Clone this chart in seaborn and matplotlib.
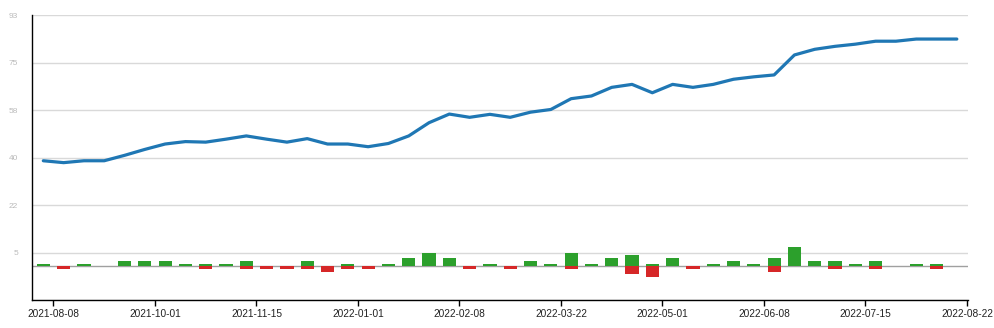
import numpy as np
import pandas as pd
import matplotlib
matplotlib.use("Agg")
import matplotlib.pyplot as plt
import seaborn as sns

# ---- data ----
line_values = [39.1, 38.4, 39.1, 39.1, 41.1, 43.3, 45.3, 46.2, 46.0, 47.1,
               48.3, 47.1, 46.0, 47.3, 45.3, 45.3, 44.3, 45.5, 48.3, 53.2,
               56.4, 55.2, 56.3, 55.2, 57.1, 58.1, 62.1, 63.1, 66.3, 67.4,
               64.3, 67.4, 66.3, 67.4, 69.3, 70.2, 70.9, 78.3, 80.4, 81.5,
               82.3, 83.4, 83.4, 84.2, 84.2, 84.2]
gains = [1, 0, 1, 0, 2, 2, 2, 1, 1, 1,
         2, 0, 0, 2, 0, 1, 0, 1, 3, 5,
         3, 0, 1, 0, 2, 1, 5, 1, 3, 4,
         1, 3, 0, 1, 2, 1, 3, 7, 2, 2,
         1, 2, 0, 1, 1, 0]
losses = [0, -1, 0, 0, 0, 0, 0, 0, -1, 0,
          -1, -1, -1, -1, -2, -1, -1, 0, 0, 0,
          0, -1, 0, -1, 0, 0, -1, 0, 0, -3,
          -4, 0, -1, 0, 0, 0, -2, 0, 0, -1,
          0, -1, 0, 0, -1, 0]
x_tick_labels = ["2021-08-08", "2021-10-01", "2021-11-15", "2022-01-01",
                 "2022-02-08", "2022-03-22", "2022-05-01", "2022-06-08",
                 "2022-07-15", "2022-08-22"]
y_tick_labels = ["", "5", "22", "40", "58", "75", "93"]

idx = np.arange(len(line_values))
df = pd.DataFrame({"i": idx, "line": line_values, "gain": gains, "loss": losses})

sns.set_style("white")
plt.rcParams["font.family"] = ["Liberation Sans", "DejaVu Sans"]

fig = plt.figure(figsize=(9.94, 3.28), dpi=100)
ax = fig.add_axes([32 / 994, 28 / 328, 936 / 994, 284.7 / 328])

ax.axhline(0, color="#a0a0a0", lw=1, zorder=1)
sns.barplot(data=df, x="i", y="gain", native_scale=True, color="#2ca02c",
            saturation=1, width=0.65, linewidth=0, errorbar=None, ax=ax, zorder=2)
sns.barplot(data=df, x="i", y="loss", native_scale=True, color="#d62728",
            saturation=1, width=0.65, linewidth=0, errorbar=None, ax=ax, zorder=2)
sns.lineplot(data=df, x="i", y="line", color="#1f77b4", linewidth=2.3,
             ax=ax, zorder=3)
for l in ax.lines:
    l.set_solid_joinstyle("round")
    l.set_solid_capstyle("round")

ax.set_xlim(-0.557, 45.55)
ax.set_ylim(-12.5, 93)

ax.set_xticks(np.arange(len(x_tick_labels)) * 5 + 0.5)
ax.set_xticklabels(x_tick_labels)
yt = np.linspace(-12.5, 93, len(y_tick_labels))
ax.set_yticks(yt)
ax.set_yticklabels(y_tick_labels)
ax.set_yticks([-12.5, 93], minor=True)

ax.yaxis.grid(True, which="major", color="#d9d9d9", lw=1)
ax.xaxis.grid(False)
ax.set_axisbelow(True)

ax.tick_params(axis="x", which="major", length=4.5, width=1, color="black",
               pad=2, labelsize=7.3, labelcolor="#222222", bottom=True)
ax.tick_params(axis="y", which="major", length=0, pad=10, labelsize=6,
               labelcolor="#bbbbbb", left=True)
ax.tick_params(axis="y", which="minor", length=3.5, width=1, color="black", left=True)

for s in ["top", "right"]:
    ax.spines[s].set_visible(False)
for s in ["left", "bottom"]:
    ax.spines[s].set_color("black")
    ax.spines[s].set_linewidth(1)

ax.set_xlabel("")
ax.set_ylabel("")
fig.savefig("out.png", dpi=100)
